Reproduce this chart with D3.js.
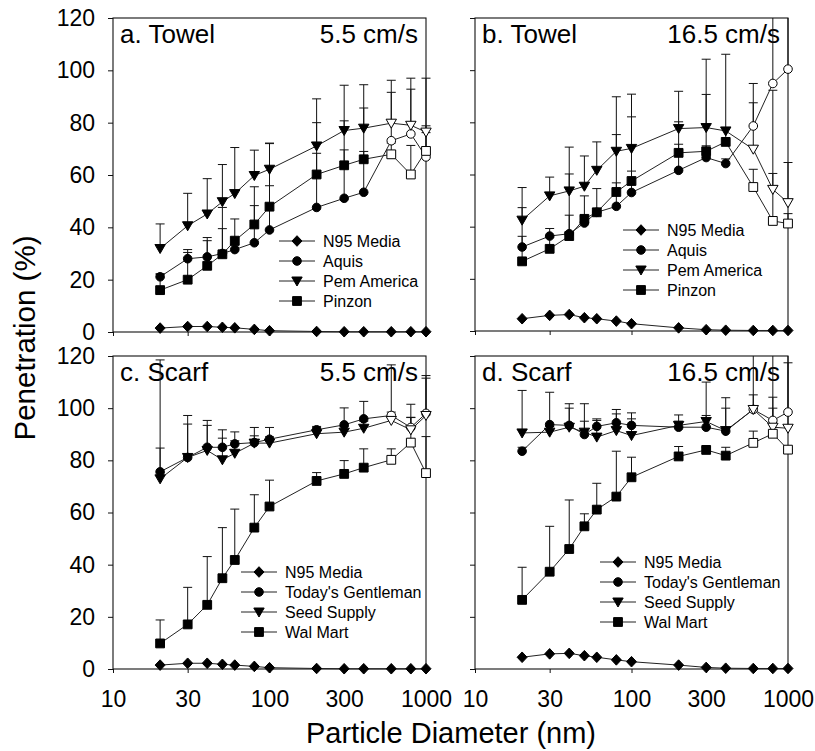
<!DOCTYPE html>
<html><head><meta charset="utf-8">
<script src="https://cdn.jsdelivr.net/npm/d3@7/dist/d3.min.js"></script>
<style>body{margin:0;background:#fff}svg{display:block}text{font-family:"Liberation Sans",Arial,sans-serif;fill:#000}</style>
</head><body><svg id="c" width="815" height="751"></svg>
<script>
// ---------- data ----------
const diameters = [20,30,40,50,60,80,100,200,300,400,600,800,1000];
const xTicks = [10,30,100,300,1000];
const yTicks = [0,20,40,60,80,100,120];
const towelNames = ["N95 Media","Aquis","Pem America","Pinzon"];
const scarfNames = ["N95 Media","Today's Gentleman","Seed Supply","Wal Mart"];
const openFrom = 600; // sizes >= this drawn with open markers (except N95)

// a. Towel 5.5 cm/s
const aN95        = [1.5,2.1,2.1,1.8,1.6,1.0,0.5,0.2,0.1,0.1,0.1,0.1,0.1];
const aAquis      = [21.1,28,28.7,30,31.5,34.1,39,47.6,51.1,53.4,73.1,75.7,66.9];
const aAquisUp    = [22,30.4,34.9,39.5,33,48.3,55.9,68.3,69.6,69,91.6,92.8,78.8];
const aPem        = [31.9,40.6,45.1,49.8,52.9,59.8,62.2,71.1,77,77.9,79.8,79,76.4];
const aPemUp      = [41.3,53,58.6,64,70.5,69.5,72.2,89.1,94.3,94.5,96.2,97,97];
const aPinzon     = [16,20,25.3,29.7,34.9,41.1,47.9,60.2,63.7,66,67.9,60.2,69.2];
const aPinzonUp   = [22.3,31.5,36.1,47.6,43.2,55.5,72,80,80.7,85.6,72.2,71.3,76.2];
// b. Towel 16.5 cm/s
const bN95        = [4.7,6.0,6.3,5.1,4.7,3.8,2.8,1.2,0.5,0.3,0.2,0.2,0.2];
const bAquis      = [32.2,36.4,37.3,41.4,45.5,47.8,53.1,61.6,66.5,64.2,78.6,94.9,100.4];
const bAquisUp    = [36.3,39.3,44.4,44,47,56.8,61.3,71.6,71,66,87.5,130,130];
const bPem        = [42.5,51.8,53.7,55.5,61.6,68.9,70,77.6,78,76.7,69.7,54.3,49.2];
const bPemUp      = [55,59,70.5,67.1,72.5,89.8,90.8,91.9,104.2,106.1,94.9,92.3,64.6];
const bPinzon     = [26.7,31.5,36.4,43,45.5,53.3,57.5,68.3,68.9,72.5,55.2,42.2,41.2];
const bPinzonUp   = [47.3,36,60.2,51.8,54.6,75.3,82.1,80.2,90.7,78,62,60.4,45];
// c. Scarf 5.5 cm/s
const cN95        = [1.5,2.2,2.2,1.8,1.5,1.0,0.5,0.2,0.1,0.1,0.1,0.1,0.1];
const cGent       = [75.6,81.1,85,85,86.3,86.8,88.1,91.7,93.6,95.9,97.2,92.6,98];
const cGentUp     = [118.5,97.2,95.3,91.7,90.9,92.6,92.6,93,100.1,102.6,116.6,101.5,112.5];
const cSeed       = [72.9,81.1,83.8,80.2,82.7,86.6,86.6,90.2,90.8,92.3,95.3,91.7,97.2];
const cSeedUp     = [84.7,93.9,93.4,88.5,87.5,89.4,89,92.5,93,95,98.5,96.5,111.5];
const cWal        = [9.8,17.1,24.6,34.8,41.8,54.2,62.3,72.1,74.8,77.2,80.2,86.8,75.1];
const cWalUp      = [18.8,31.3,43.1,54.2,61.3,66.8,72.4,75.3,79.9,84.4,84.4,96.4,89.1];
// d. Scarf 16.5 cm/s
const dN95        = [4.5,5.8,6.0,5.1,4.5,3.5,2.8,1.5,0.6,0.3,0.2,0.2,0.2];
const dGent       = [83.5,93.7,93.4,89.9,93,94.4,93.4,92.7,92.7,91.2,99.5,95.3,98.5];
const dGentUp     = [85,106.1,101.7,95,95.9,99.5,98.2,95,110,104,130,130,130];
const dSeed       = [90.5,90.8,92.7,90.8,88.9,91.4,89.5,93.4,94.9,91.4,99.5,92.7,92.3];
const dSeedUp     = [106.8,93,100,101.7,95.3,97.8,95.9,97.4,97.2,100,105.1,104.2,117.4];
const dWal        = [26.5,37.3,46,54.7,61.1,66.1,73.5,81.5,84,81.8,86.7,90.2,84.1];
const dWalUp      = [39,54.7,64.8,59.5,71.2,83.5,81.2,85.3,85,85,91.2,100,84.1];

// ---------- layout ----------
const panels = [
  {id:"a",x0:113,y0:18,w:313,h:314,label:"a. Towel",speed:"5.5 cm/s",names:towelNames,
   vals:[aN95,aAquis,aPem,aPinzon],ups:[null,aAquisUp,aPemUp,aPinzonUp],lx:279,ly:241,yl:true,xl:false},
  {id:"b",x0:475,y0:18,w:313,h:313,label:"b. Towel",speed:"16.5 cm/s",names:towelNames,
   vals:[bN95,bAquis,bPem,bPinzon],ups:[null,bAquisUp,bPemUp,bPinzonUp],lx:623,ly:230,yl:false,xl:false},
  {id:"c",x0:113,y0:356,w:313,h:313,label:"c. Scarf",speed:"5.5 cm/s",names:scarfNames,
   vals:[cN95,cGent,cSeed,cWal],ups:[null,cGentUp,cSeedUp,cWalUp],lx:241,ly:572,yl:true,xl:true},
  {id:"d",x0:475,y0:356,w:313,h:313,label:"d. Scarf",speed:"16.5 cm/s",names:scarfNames,
   vals:[dN95,dGent,dSeed,dWal],ups:[null,dGentUp,dSeedUp,dWalUp],lx:600,ly:562,yl:false,xl:true}
];

const shapes = [
  "M0,-5.3L5,0L0,5.3L-5,0Z",                    // diamond
  "M4.3,0A4.3,4.3 0 1,1 -4.3,0A4.3,4.3 0 1,1 4.3,0Z", // circle
  "M-5.2,-4L5.2,-4L0,5Z",                        // triangle down
  "M-4.4,-4.4H4.4V4.4H-4.4Z"                     // square
];

const svg = d3.select("#c");
const defs = svg.append("defs");

panels.forEach(p => {
  const x = d3.scaleLog().domain([10,1000]).range([0,p.w]);
  const y = d3.scaleLinear().domain([0,120]).range([p.h,0]);
  const g = svg.append("g").attr("transform",`translate(${p.x0},${p.y0})`);

  defs.append("clipPath").attr("id","clip"+p.id)
    .append("rect").attr("x",-20).attr("y",0).attr("width",p.w+40).attr("height",p.h+20);

  // axes
  const ya = d3.axisLeft(y).tickValues(yTicks).tickSize(5).tickPadding(13)
      .tickFormat(p.yl ? d3.format("d") : () => "");
  const gy = g.append("g").call(ya);
  const xa = d3.axisBottom(x).tickValues(xTicks).tickSize(4).tickPadding(18)
      .tickFormat(p.xl ? d3.format("d") : () => "");
  const gx = g.append("g").attr("transform",`translate(0,${p.h})`).call(xa);
  [gy,gx].forEach(a => {
    a.select(".domain").remove();
    a.selectAll("line").attr("stroke","#111");
    a.selectAll("text").attr("font-size",23).attr("fill","#000")
      .attr("font-family","'Liberation Sans',Arial,sans-serif");
  });
  gy.selectAll(".tick line").attr("x2",-5);

  // frame
  g.append("rect").attr("width",p.w).attr("height",p.h)
    .attr("fill","none").attr("stroke","#111").attr("stroke-width",1.1);

  // panel labels
  g.append("text").attr("x",7).attr("y",25).attr("font-size",26).text(p.label);
  g.append("text").attr("x",p.w-8).attr("y",25).attr("font-size",26)
    .attr("text-anchor","end").text(p.speed);

  const line = d3.line().x((d,i)=>x(diameters[i])).y(d=>y(d));

  // series lines
  p.vals.forEach(v => {
    g.append("path").attr("d",line(v)).attr("fill","none")
      .attr("stroke","#222").attr("stroke-width",1);
  });

  // error bars (upper only)
  const eg = g.append("g").attr("clip-path",`url(#clip${p.id})`);
  p.ups.forEach((u,si) => {
    if(!u) return;
    u.forEach((hi,i) => {
      const cx = x(diameters[i]);
      const y1 = y(p.vals[si][i]), y2 = y(hi);
      eg.append("line").attr("x1",cx).attr("x2",cx).attr("y1",y1).attr("y2",y2)
        .attr("stroke","#111").attr("stroke-width",1);
      eg.append("line").attr("x1",cx-4.5).attr("x2",cx+4.5).attr("y1",y2).attr("y2",y2)
        .attr("stroke","#111").attr("stroke-width",1);
    });
  });

  // markers
  p.vals.forEach((v,si) => {
    g.selectAll(null).data(v).enter().append("path")
      .attr("d",shapes[si])
      .attr("transform",(d,i)=>`translate(${x(diameters[i])},${y(d)})`)
      .attr("fill",(d,i)=> (si>0 && diameters[i]>=openFrom) ? "#fff" : "#000")
      .attr("stroke","#000").attr("stroke-width",1);
  });

  // legend
  const lg = svg.append("g");
  p.names.forEach((n,k) => {
    const yy = p.ly + k*20;
    lg.append("line").attr("x1",p.lx).attr("x2",p.lx+36).attr("y1",yy).attr("y2",yy)
      .attr("stroke","#222").attr("stroke-width",1);
    lg.append("path").attr("d",shapes[k]).attr("transform",`translate(${p.lx+18},${yy})`)
      .attr("fill","#000").attr("stroke","#000");
    lg.append("text").attr("x",p.lx+44).attr("y",yy).attr("dy","0.36em")
      .attr("font-size",16).text(n);
  });
});

// axis titles
svg.append("text").attr("transform","translate(35,338) rotate(-90)")
  .attr("text-anchor","middle").attr("font-size",29.5).text("Penetration (%)");
svg.append("text").attr("x",451).attr("y",743)
  .attr("text-anchor","middle").attr("font-size",29).text("Particle Diameter (nm)");
</script></body></html>
